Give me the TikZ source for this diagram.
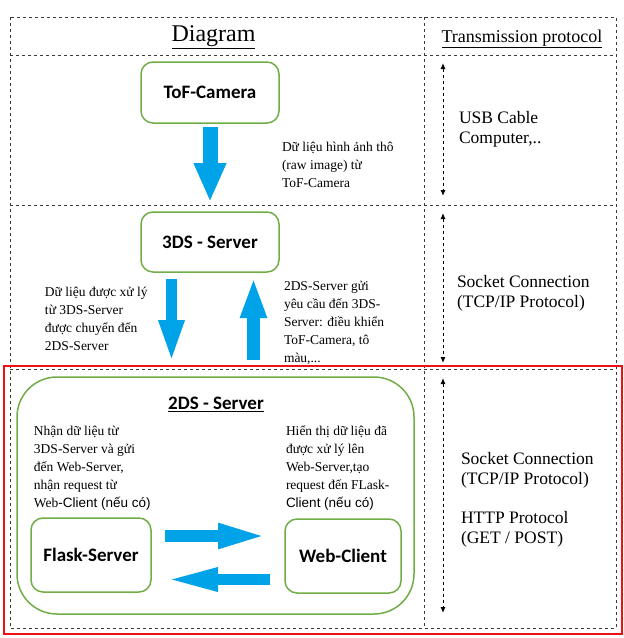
\documentclass[tikz,border=0pt]{standalone}
\usepackage{fontspec}
\setmainfont{Liberation Serif}
\newfontfamily\calfont{Carlito}
\newfontfamily\arialfont{Liberation Sans}
\usetikzlibrary{arrows.meta}
\definecolor{boxgreen}{HTML}{70AD47}
\definecolor{flowblue}{HTML}{00A2E8}
\definecolor{framered}{HTML}{EE1111}
\definecolor{dashgray}{HTML}{3A3A3A}
\begin{document}
\begin{tikzpicture}[x=1pt,y=-1pt,
  every node/.style={inner sep=0pt, outer sep=0pt},
  grid/.style={draw=dashgray, line width=1pt, dash pattern=on 3pt off 3pt},
  stepbox/.style={draw=boxgreen, line width=1.5pt, rounded corners=12pt, font=\calfont\bfseries\fontsize{19}{22}\selectfont, align=center},
  note/.style={anchor=west, align=left, font=\fontsize{13.5}{18}\selectfont},
  proto/.style={anchor=west, align=left, font=\fontsize{17.5}{20}\selectfont},
  flow/.style={draw=flowblue, line width=#1},
  protoarrow/.style={draw=black, line width=1pt, dash pattern=on 3pt off 3pt, {Latex[length=6pt,width=5pt]}-{Latex[length=6pt,width=5pt]}},
]
\useasboundingbox (0,0) rectangle (624,638);

% table frame
\draw[grid] (10,17) rectangle (616,628);
\draw[grid] (424,17) -- (424,628);
\draw[grid] (10,55) -- (616,55);
\draw[grid] (10,205) -- (616,205);
\draw[grid] (10,369) -- (616,369);
\draw[framered, line width=2pt] (4,366) rectangle (622,634);

% headers
\node[font=\fontsize{24}{28}\selectfont] (hdiag) at (213.5,37) {\underline{Diagram}};
\node[font=\fontsize{18}{22}\selectfont] (hproto) at (522,39) {\underline{Transmission protocol}};

% boxes
\node[stepbox, minimum width=138pt, minimum height=61pt] (tof) at (210,92.5) {ToF-Camera};
\node[stepbox, minimum width=138pt, minimum height=60pt] (tds) at (210,242) {3DS - Server};
\node[draw=boxgreen, line width=1.5pt, rounded corners=40pt, minimum width=397pt, minimum height=237pt] (ds2) at (215.5,495.5) {};
\node[font=\calfont\bfseries\fontsize{19}{22}\selectfont] (ds2t) at (216,404) {\underline{2DS - Server}};
\node[stepbox, minimum width=120pt, minimum height=74pt] (flask) at (91,555) {Flask-Server};
\node[stepbox, minimum width=116pt, minimum height=74pt] (web) at (343,556) {Web-Client};

% flow arrows
\draw[flow=15pt, -{Triangle[width=30pt,length=39pt]}, shorten <=4pt, shorten >=10pt] (tof.south) -- (tds.north);
\coordinate (dA) at ([xshift=-38.5pt]tds.south);
\draw[flow=11pt, -{Triangle[width=23pt,length=43pt]}, shorten <=7pt, shorten >=14pt] (dA) -- (dA |- ds2.north);
\coordinate (uA) at ([xshift=43.5pt]tds.south);
\draw[flow=13pt, -{Triangle[width=24pt,length=41pt]}, shorten <=17pt, shorten >=5pt] (uA |- ds2.north) -- (uA);
\coordinate (fA) at ([yshift=19pt]flask.east);
\draw[flow=12pt, -{Triangle[width=22pt,length=52pt]}, shorten <=14pt, shorten >=15pt] (fA) -- (fA -| web.west);
\coordinate (wA) at ([yshift=-23.5pt]web.west);
\draw[flow=11pt, -{Triangle[width=21pt,length=54pt]}, shorten <=15pt, shorten >=13pt] (wA) -- (wA -| flask.east);

% notes
\node[note] (n1) at (282,165) {Dữ liệu hình ảnh thô\\(raw image) từ\\ToF-Camera};
\node[note] (n2) at (45,319) {Dữ liệu được xử lý\\từ 3DS-Server\\được chuyển đến\\2DS-Server};
\node[note] (n3) at (284,323) {2DS-Server gửi\\yêu cầu đến 3DS-\\Server: điều khiển\\ToF-Camera, tô\\màu,...};
\node[note] (n4) at (34,468) {Nhận dữ liệu từ\\3DS-Server và gửi\\đến Web-Server,\\nhận request từ\\Web{\arialfont-Client (nếu có)}};
\node[note] (n5) at (286,468) {Hiển thị dữ liệu đã\\được xử lý lên\\Web-Server,tạo\\request đến FLask-\\{\arialfont Client (nếu có)}};

% protocol column
\coordinate (p1a) at (443,63);  \coordinate (p1b) at (443,196);
\coordinate (p2a) at (443,213); \coordinate (p2b) at (443,363);
\coordinate (p3a) at (443,378); \coordinate (p3b) at (443,613);
\draw[protoarrow] (p1a) -- (p1b);
\draw[protoarrow] (p2a) -- (p2b);
\draw[protoarrow] (p3a) -- (p3b);
\node[proto] (t1) at (459,129) {USB Cable\\Computer,..};
\node[proto] (t2) at (457,293) {Socket Connection\\(TCP/IP Protocol)};
\node[proto] (t3) at (461,470) {Socket Connection\\(TCP/IP Protocol)};
\node[proto] (t4) at (461,529) {HTTP Protocol\\(GET / POST)};
\end{tikzpicture}
\end{document}
